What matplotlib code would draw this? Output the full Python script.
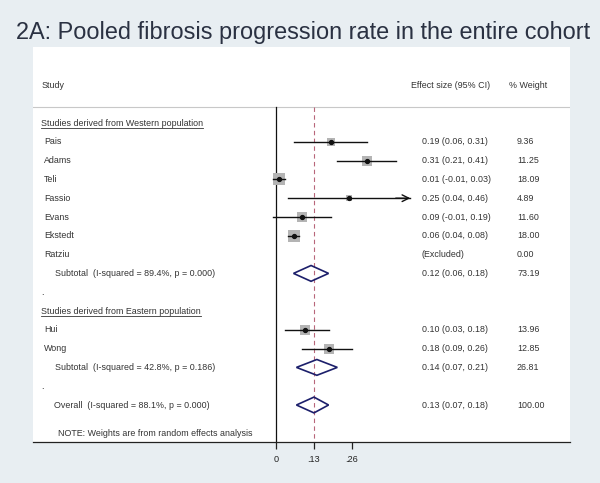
import matplotlib
matplotlib.use("Agg")
import matplotlib.pyplot as plt
from matplotlib.patches import Polygon
import numpy as np

plt.rcParams['font.family'] = ['Liberation Sans', 'DejaVu Sans']

title = "2A: Pooled fibrosis progression rate in the entire cohort"

west_studies = ["Pais", "Adams", "Teli", "Fassio", "Evans", "Ekstedt", "Ratziu"]
west_es = [0.19, 0.31, 0.01, 0.25, 0.09, 0.06, None]
west_lo = [0.06, 0.21, -0.01, 0.04, -0.01, 0.04, None]
west_hi = [0.31, 0.41, 0.03, 0.46, 0.19, 0.08, None]
west_w = [9.36, 11.25, 18.09, 4.89, 11.60, 18.00, 0.00]
west_sub = (0.12, 0.06, 0.18, 73.19)
west_sub_label = "Subtotal  (I-squared = 89.4%, p = 0.000)"

east_studies = ["Hui", "Wong"]
east_es = [0.10, 0.18]
east_lo = [0.03, 0.09]
east_hi = [0.18, 0.26]
east_w = [13.96, 12.85]
east_sub = (0.14, 0.07, 0.21, 26.81)
east_sub_label = "Subtotal  (I-squared = 42.8%, p = 0.186)"

overall = (0.13, 0.07, 0.18, 100.00)
overall_label = "Overall  (I-squared = 88.1%, p = 0.000)"

xticks = [0, 0.13, 0.26]
xtick_labels = ["0", ".13", ".26"]
axis_max = 0.42  # CI beyond this shown with arrow

W, H = 600, 483
fig = plt.figure(figsize=(6.0, 4.83), dpi=100)
fig.patch.set_facecolor('#e8eef2')

# axes occupies white panel
left_px, right_px, top_px, bot_px = 33, 570, 47, 442
ax = fig.add_axes([left_px / W, 1 - bot_px / H, (right_px - left_px) / W, (bot_px - top_px) / H])
ax.set_facecolor('white')
x0_px, ppu = 276, 292.0
ax.set_xlim((left_px - x0_px) / ppu, (right_px - x0_px) / ppu)
row_px0, row_step = 123, 18.8
ax.set_ylim((bot_px - row_px0) / row_step, (top_px - row_px0) / row_step)

for s in ['top', 'right', 'left']:
    ax.spines[s].set_visible(False)
ax.spines['bottom'].set_color('#222222')
ax.spines['bottom'].set_linewidth(0.9)
ax.set_yticks([])
ax.set_xticks(xticks)
ax.set_xticklabels(xtick_labels)
ax.tick_params(axis='x', direction='out', length=5, width=0.9, labelsize=6.6,
               colors='#222222', pad=4)

fs = 6.4
tc = '#333333'
lab_x = (44 - x0_px) / ppu
sub_x = (55 - x0_px) / ppu
es_x = (422 - x0_px) / ppu
w_x = (517 - x0_px) / ppu

# header
ax.text((42 - x0_px) / ppu, -2.0, "Study", fontsize=fs, color=tc, va='center')
ax.text((411 - x0_px) / ppu, -2.0, "Effect size (95% CI)", fontsize=fs, color=tc, va='center')
ax.text((509 - x0_px) / ppu, -2.0, "% Weight", fontsize=fs, color=tc, va='center')
ax.axhline((107 - row_px0) / row_step, color='#c8c8c8', lw=0.8)

top_line = (107 - row_px0) / row_step
ax.plot([0, 0], [top_line, ax.get_ylim()[0]], color='#111111', lw=0.9, clip_on=False)
ax.plot([overall[0], overall[0]], [top_line, ax.get_ylim()[0]], color='#b8667a', lw=0.8,
        ls=(0, (4, 3)))

headers = []

def draw_study(row, name, es, lo, hi, w):
    ax.text(lab_x, row, name, fontsize=fs, color=tc, va='center')
    if es is None:
        ax.text(es_x, row, "(Excluded)", fontsize=fs, color=tc, va='center')
    else:
        ax.text(es_x, row, f"{es:.2f} ({lo:.2f}, {hi:.2f})", fontsize=fs, color=tc, va='center')
        ax.scatter([es], [row], marker='s', s=4.2 * w, color='#b4b4b4', zorder=3, linewidths=0)
        ax.plot([lo, hi], [row, row], color='#111111', lw=1.0, zorder=4)
        if hi > axis_max:
            ax.annotate("", xy=(hi, row), xytext=(hi - 0.05, row),
                        arrowprops=dict(arrowstyle='->', color='#111111', lw=1.0,
                                        mutation_scale=12, shrinkA=0, shrinkB=0), zorder=4)
        ax.plot([es], [row], marker='o', ms=2.8, color='#111111', zorder=5)
    ax.text(w_x, row, f"{w:.2f}", fontsize=fs, color=tc, va='center')

def draw_diamond(row, est, label, lx):
    es, lo, hi, w = est
    h = 0.42
    poly = Polygon([[lo, row], [es, row - h], [hi, row], [es, row + h]], closed=True,
                   fill=False, edgecolor='#1c1f6b', lw=1.2, zorder=4)
    ax.add_patch(poly)
    ax.text(lx, row, label, fontsize=fs, color=tc, va='center')
    ax.text(es_x, row, f"{es:.2f} ({lo:.2f}, {hi:.2f})", fontsize=fs, color=tc, va='center')
    ax.text(w_x, row, f"{w:.2f}", fontsize=fs, color=tc, va='center')

headers.append(ax.text(lab_x - 0.01, 0, "Studies derived from Western population", fontsize=fs,
                       color=tc, va='center'))
row = 1
for n, e, l, h_, w in zip(west_studies, west_es, west_lo, west_hi, west_w):
    draw_study(row, n, e, l, h_, w)
    row += 1
draw_diamond(row, west_sub, west_sub_label, sub_x)
row += 1
ax.text(lab_x - 0.01, row, ".", fontsize=fs, color=tc, va='center')
row += 1
headers.append(ax.text(lab_x - 0.01, row, "Studies derived from Eastern population", fontsize=fs,
                       color=tc, va='center'))
row += 1
for n, e, l, h_, w in zip(east_studies, east_es, east_lo, east_hi, east_w):
    draw_study(row, n, e, l, h_, w)
    row += 1
draw_diamond(row, east_sub, east_sub_label, sub_x)
row += 1
ax.text(lab_x - 0.01, row, ".", fontsize=fs, color=tc, va='center')
row += 1
draw_diamond(row, overall, overall_label, (54 - x0_px) / ppu)
row += 1
ax.text((58 - x0_px) / ppu, row + 0.5, "NOTE: Weights are from random effects analysis",
        fontsize=fs, color=tc, va='center')

fig.text(0.505, 1 - 33 / H, title, fontsize=16.9, color='#2a3142', ha='center', va='center')

# underline group headers
fig.canvas.draw()
r = fig.canvas.get_renderer()
inv = ax.transData.inverted()
for t in headers:
    bb = t.get_window_extent(r)
    (xa, ya), (xb, yb) = inv.transform([[bb.x0, bb.y0 - 0.5], [bb.x1, bb.y0 - 0.5]])
    ax.plot([xa, xb], [ya, yb], color=tc, lw=0.6)

fig.savefig("out.png", dpi=100, facecolor=fig.get_facecolor())
